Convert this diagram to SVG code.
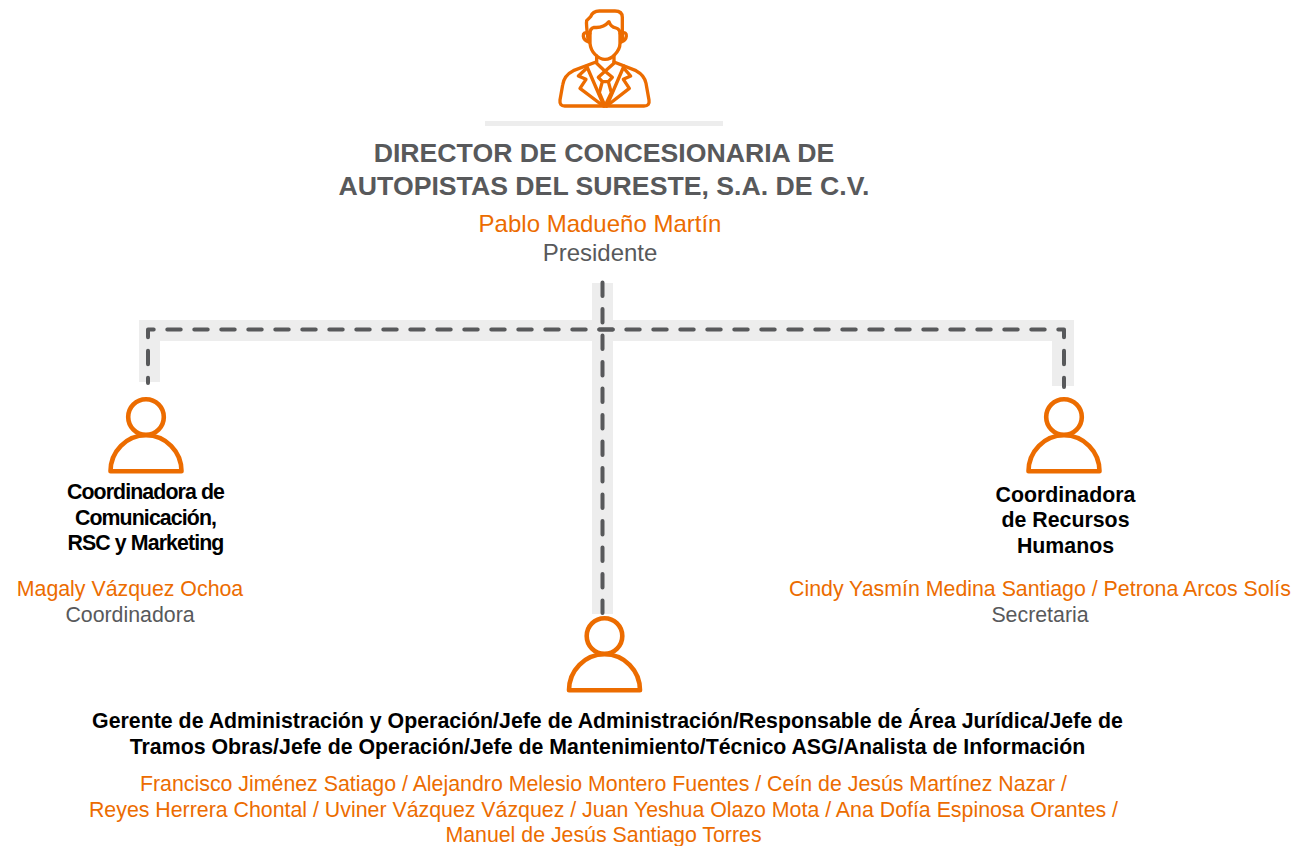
<svg xmlns="http://www.w3.org/2000/svg" width="1292" height="846" viewBox="0 0 1292 846">
<style>
text{font-family:"Liberation Sans",Arial,sans-serif;text-anchor:middle}
.t{font-size:26.67px;font-weight:700;fill:#58595b}
.o{font-size:21.33px;fill:#ec6c00}
.g{font-size:21.33px;fill:#58595b}
.l{font-size:24px}
.b{font-size:21.33px;font-weight:700;fill:#000}
.n{letter-spacing:-.9px}
.band{fill:#ededed}
.dash{fill:none;stroke:#58595b;stroke-width:4;stroke-linecap:round;stroke-linejoin:round;stroke-dasharray:13.4 13.6}
.ic{fill:none;stroke:#ec6c00;stroke-width:4.600;stroke-linejoin:round;stroke-linecap:round}
</style>
<defs>
<g id="person" class="ic"><circle cx="0" cy="0" r="17.800"/><path d="M-35.500 54.300A35.500 36 0 0 1 35.500 54.300Z"/></g>
</defs>
<g id="connectors">
<path class="band" d="M592 283H613V320H1074V386H1052V341H613V614H592V341H160V382H139V320H592Z"/>
<path class="dash" d="M612.700 329.500H148V383"/>
<path class="dash" d="M599.300 329.500H1064V387"/>
<path class="dash" d="M602.500 282.500V613" style="stroke-dasharray:13.400 13.100"/>
</g>
<g id="director">
<g class="ic" transform="translate(540 0) scale(.3333)" style="stroke-width:10">
<path d="M150 100V130Q152 150 165 163Q180 178 195 178Q212 178 225 163Q240 148 240 130V100"/>
<path d="M150 100Q150 85 162 82Q190 85 207 65Q212 80 228 84Q240 88 240 100"/>
<path d="M144 118Q138 70 140 62L152 50Q158 33 178 33H225Q247 33 247 52V118"/>
<path d="M144 98Q129 96 130 108Q131 120 146 126"/>
<path d="M247 98Q260 96 259 108Q258 120 244 126"/>
<path d="M170 168V190L195 214L222 190V168"/>
<path d="M168 186L100 212Q72 226 68 255L60 300Q58 318 74 318H312Q330 318 327 300L318 250Q314 226 288 212L222 186"/>
<path d="M140 198L192 318M252 198L200 318"/>
<path d="M140 205L115 228L138 238L120 265L190 318M252 205L272 228L250 238L268 265L200 318"/>
<path d="M195 214L175 232L187 245H205L217 232ZM187 245L178 278L195 318L214 278L205 245"/>
</g>
<rect class="band" x="485" y="121" width="238" height="5"/>
<text class="t" x="604" y="162">DIRECTOR DE CONCESIONARIA DE</text>
<text class="t" x="604" y="195">AUTOPISTAS DEL SURESTE, S.A. DE C.V.</text>
<text class="o l" x="600" y="232">Pablo Madueño Martín</text>
<text class="g l" x="600" y="261">Presidente</text>
</g>
<g id="coord-comunicacion">
<use href="#person" x="146" y="417"/>
<text class="b n" x="145.500" y="499">Coordinadora de</text>
<text class="b n" x="145.500" y="525">Comunicación,</text>
<text class="b n" x="145.500" y="550">RSC y Marketing</text>
<text class="o" x="130" y="596">Magaly Vázquez Ochoa</text>
<text class="g" x="130" y="622">Coordinadora</text>
</g>
<g id="coord-rrhh">
<use href="#person" x="1064" y="417"/>
<text class="b" x="1065.500" y="502">Coordinadora</text>
<text class="b" x="1065.500" y="527">de Recursos</text>
<text class="b" x="1065.500" y="553">Humanos</text>
<text class="o" x="1040" y="596">Cindy Yasmín Medina Santiago / Petrona Arcos Solís</text>
<text class="g" x="1040" y="622">Secretaria</text>
</g>
<g id="gerencia">
<use href="#person" x="604.500" y="636"/>
<text class="b" x="607.500" y="728">Gerente de Administración y Operación/Jefe de Administración/Responsable de Área Jurídica/Jefe de</text>
<text class="b" x="607.500" y="754">Tramos Obras/Jefe de Operación/Jefe de Mantenimiento/Técnico ASG/Analista de Información</text>
<text class="o" x="603.500" y="791">Francisco Jiménez Satiago / Alejandro Melesio Montero Fuentes / Ceín de Jesús Martínez Nazar /</text>
<text class="o" x="603.500" y="817">Reyes Herrera Chontal / Uviner Vázquez Vázquez / Juan Yeshua Olazo Mota / Ana Dofía Espinosa Orantes /</text>
<text class="o" x="603.500" y="842">Manuel de Jesús Santiago Torres</text>
</g>
</svg>
